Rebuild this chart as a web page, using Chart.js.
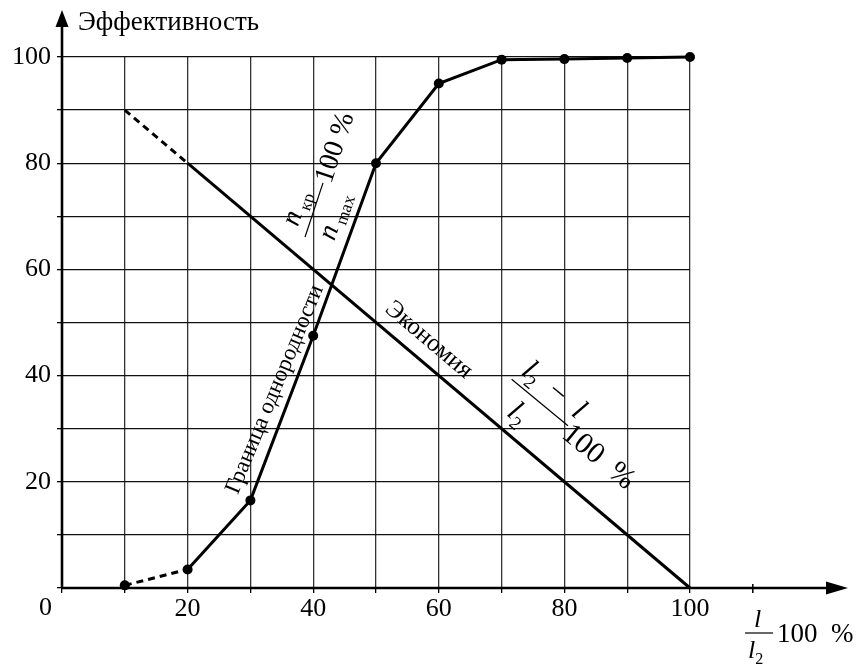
<!DOCTYPE html>
<html>
<head>
<meta charset="utf-8">
<script src="https://cdn.jsdelivr.net/npm/chart.js@4"></script>
<style>
  html, body { margin: 0; padding: 0; background: #fff; }
</style>
</head>
<body>
<canvas id="myChart" width="860" height="664"></canvas>
<script>
// data
var xValues = [10, 20, 30, 40, 50, 60, 70, 80, 90, 100];
var effValues = [0.5, 3.5, 16.5, 47.5, 80, 95, 99.5, 99.6, 99.8, 100];
var econX = [10, 20, 100];
var econValues = [90, 80, 0];
var xTickLabels = [20, 40, 60, 80, 100];
var yTickLabels = [20, 40, 60, 80, 100];
var extraTick = 110;

var serif = '"Liberation Serif", "DejaVu Serif", serif';
function font(size, italic) {
    return (italic ? 'italic ' : '') + size + 'px ' + serif;
}

function drawParts(ctx, parts, x, y, size) {
    parts.forEach(function (p) {
        ctx.font = font(p.sub ? size * 0.62 : size, p.it);
        ctx.fillText(p.t, x, p.sub ? y + size * 0.22 : y);
        x += ctx.measureText(p.t).width;
    });
    return x;
}

// fraction bar starting at (x, y), turned by angle, with pieces placed along it
function drawFraction(ctx, x, y, angle, barLen, items) {
    ctx.save();
    ctx.translate(x, y);
    ctx.rotate(angle);
    ctx.textAlign = 'left';
    ctx.textBaseline = 'alphabetic';
    ctx.lineWidth = 1.2;
    ctx.strokeStyle = '#000';
    ctx.beginPath();
    ctx.moveTo(0, 0);
    ctx.lineTo(barLen, 0);
    ctx.stroke();
    items.forEach(function (it) {
        drawParts(ctx, it.parts, it.dx, it.dy, it.size);
    });
    ctx.restore();
}

function rotatedText(ctx, text, cx, cy, angle, size) {
    ctx.save();
    ctx.translate(cx, cy);
    ctx.rotate(angle);
    ctx.font = font(size, false);
    ctx.textAlign = 'center';
    ctx.textBaseline = 'middle';
    ctx.fillText(text, 0, 0);
    ctx.restore();
}

var deg = Math.PI / 180;

var axesPlugin = {
    id: 'axesPlugin',
    afterDatasetsDraw: function (chart) {
        var ctx = chart.ctx;
        var xs = chart.scales.x;
        var ys = chart.scales.y;
        var x0 = xs.getPixelForValue(0);
        var y0 = ys.getPixelForValue(0);
        var xEnd = 848;
        var yEnd = 10;

        ctx.save();
        ctx.fillStyle = '#000';
        ctx.strokeStyle = '#000';

        // main axes
        ctx.lineWidth = 2.6;
        ctx.beginPath();
        ctx.moveTo(x0, y0);
        ctx.lineTo(xEnd - 18, y0);
        ctx.moveTo(x0, y0);
        ctx.lineTo(x0, yEnd + 14);
        ctx.stroke();

        // arrow heads
        ctx.beginPath();
        ctx.moveTo(xEnd, y0);
        ctx.lineTo(xEnd - 22, y0 - 6.5);
        ctx.lineTo(xEnd - 22, y0 + 6.5);
        ctx.closePath();
        ctx.fill();
        ctx.beginPath();
        ctx.moveTo(x0, yEnd);
        ctx.lineTo(x0 - 6.5, yEnd + 17);
        ctx.lineTo(x0 + 6.5, yEnd + 17);
        ctx.closePath();
        ctx.fill();

        // extra tick beyond the grid
        var xt = xs.getPixelForValue(extraTick);
        ctx.lineWidth = 1.5;
        ctx.beginPath();
        ctx.moveTo(xt, y0 - 4);
        ctx.lineTo(xt, y0 + 5);
        ctx.stroke();

        // origin label
        ctx.font = font(26, false);
        ctx.textAlign = 'right';
        ctx.textBaseline = 'alphabetic';
        ctx.fillText('0', 52, 615);

        // y title
        ctx.textAlign = 'left';
        ctx.font = font(27, false);
        ctx.fillText('Эффективность', 78, 30);

        // x title: l / l2 100 %
        drawFraction(ctx, 745, 633, 0, 28, [
            { parts: [{ t: 'l', it: true }], dx: 9, dy: -6, size: 26 },
            { parts: [{ t: 'l', it: true }, { t: '2', sub: true }], dx: 3, dy: 25, size: 26 },
            { parts: [{ t: '100\u2002%' }], dx: 32, dy: 9, size: 27 }
        ]);

        // labels along the curves
        rotatedText(ctx, 'Граница однородности',
            xs.getPixelForValue(33.9), ys.getPixelForValue(37.4), -67.5 * deg, 23);

        drawFraction(ctx, xs.getPixelForValue(38.7), ys.getPixelForValue(66.1), -71.6 * deg, 57, [
            { parts: [{ t: 'n', it: true }, { t: ' кр', sub: true }], dx: 7, dy: -10, size: 28 },
            { parts: [{ t: 'n', it: true }, { t: ' max', sub: true }], dx: 5, dy: 29, size: 28 },
            { parts: [{ t: '100 %' }], dx: 58, dy: 8, size: 28 }
        ]);

        var econAngle = Math.atan2(
            ys.getPixelForValue(econValues[2]) - ys.getPixelForValue(econValues[1]),
            xs.getPixelForValue(econX[2]) - xs.getPixelForValue(econX[1]));
        rotatedText(ctx, 'Экономия',
            xs.getPixelForValue(58.4), ys.getPixelForValue(46.7), econAngle, 25);

        drawFraction(ctx, xs.getPixelForValue(71.6), ys.getPixelForValue(39.3), 39.5 * deg, 73, [
            { parts: [{ t: 'l', it: true }, { t: '2', sub: true }, { t: '\u2002−\u2002' }, { t: 'l', it: true }],
              dx: 3, dy: -10, size: 30 },
            { parts: [{ t: 'l', it: true }, { t: '2', sub: true }], dx: 18, dy: 31, size: 30 },
            { parts: [{ t: '100\u2002%' }], dx: 74, dy: 13, size: 30 }
        ]);

        ctx.restore();
    }
};

var dashedFirst = function (c) {
    return c.p0DataIndex === 0 ? [7, 5] : undefined;
};

var ctx = document.getElementById('myChart');
var chart = new Chart(ctx, {
    type: 'scatter',
    data: {
        datasets: [{
            label: 'Граница однородности',
            data: xValues.map(function (x, i) { return { x: x, y: effValues[i] }; }),
            showLine: true,
            borderColor: '#000',
            borderWidth: 3,
            pointRadius: 5,
            pointBackgroundColor: '#000',
            pointBorderWidth: 0,
            clip: false,
            segment: { borderDash: dashedFirst }
        }, {
            label: 'Экономия',
            data: econX.map(function (x, i) { return { x: x, y: econValues[i] }; }),
            showLine: true,
            borderColor: '#000',
            borderWidth: 3,
            pointRadius: 0,
            clip: false,
            segment: { borderDash: dashedFirst }
        }]
    },
    options: {
        responsive: false,
        animation: false,
        layout: { padding: { top: 57, right: 170, left: 0, bottom: 0 } },
        plugins: {
            legend: { display: false },
            tooltip: { enabled: false }
        },
        scales: {
            x: {
                type: 'linear',
                min: 0,
                max: 100,
                afterFit: function (scale) { scale.height = 76; },
                border: { display: false },
                grid: { color: '#333', lineWidth: 1.3, tickLength: 5, tickColor: '#000' },
                ticks: {
                    stepSize: 10,
                    autoSkip: false,
                    maxRotation: 0,
                    padding: 1,
                    color: '#000',
                    font: { family: serif, size: 26 },
                    callback: function (v) { return xTickLabels.indexOf(v) >= 0 ? String(v) : ''; }
                }
            },
            y: {
                type: 'linear',
                min: 0,
                max: 100,
                afterFit: function (scale) { scale.width = 62; },
                border: { display: false },
                grid: { color: '#111', lineWidth: 1.3, tickLength: 5, tickColor: '#000' },
                ticks: {
                    stepSize: 10,
                    autoSkip: false,
                    padding: 6,
                    color: '#000',
                    font: { family: serif, size: 26 },
                    callback: function (v) { return yTickLabels.indexOf(v) >= 0 ? String(v) : ''; }
                }
            }
        }
    },
    plugins: [axesPlugin]
});
</script>
</body>
</html>
